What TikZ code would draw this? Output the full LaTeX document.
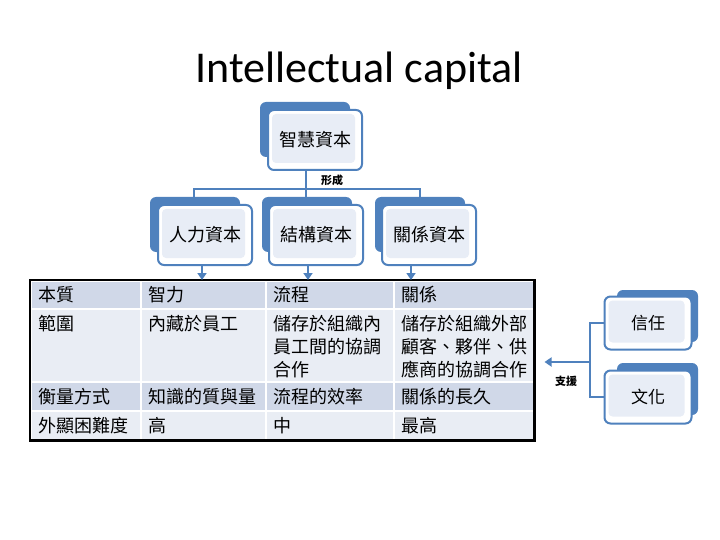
\documentclass[tikz,border=0pt]{standalone}
\usepackage{fontspec}
\setmainfont{Carlito}
\newfontfamily\cjk{Noto Sans CJK TC}
\usetikzlibrary{arrows.meta}
\pgfdeclarelayer{bg}
\pgfsetlayers{bg,main}
\definecolor{capblue}{HTML}{4F81BD}
\definecolor{boxfill}{HTML}{E8EDF6}
\definecolor{rowdark}{HTML}{D0D8E8}
\definecolor{rowlight}{HTML}{E9EDF4}
\begin{document}
\begin{tikzpicture}[
	x=1pt, y=-1pt,
	front/.style={draw=capblue, line width=2pt, rounded corners=6pt, fill=white,
		minimum width=94pt, minimum height=60pt, font=\cjk\fontsize{18}{20}\selectfont,
		path picture={\fill[boxfill, rounded corners=4pt]
			([shift={(4pt,-4pt)}]path picture bounding box.north west) rectangle
			([shift={(-7pt,7pt)}]path picture bounding box.south east);}},
	small/.style={minimum width=87pt, minimum height=53pt, font=\cjk\fontsize{17}{19}\selectfont},
	back/.style={fill=capblue, rounded corners=6pt},
	link/.style={draw=capblue, line width=2pt},
	arrow/.style={link, -{Triangle[width=9pt,length=7pt]}},
	tag/.style={font=\cjk\bfseries\fontsize{11}{12}\selectfont},
	cell/.style={draw=white, line width=1.5pt, anchor=north west, inner xsep=8pt, inner ysep=0pt,
		align=left, font=\cjk\fontsize{18}{23}\selectfont},
	dark/.style={cell, fill=rowdark},
	light/.style={cell, fill=rowlight},
	tall/.style={minimum height=73pt, text height=22pt, text depth=51pt},
	]
	\useasboundingbox (0,0) rectangle (720,540);
	
	%-----------------------
	% Table grid
	%-----------------------
	\def\xa{30}
	\def\xb{140}
	\def\xc{265}
	\def\xd{393}
	\def\ya{280}
	\def\yb{308}
	\def\yc{381}
	\def\yd{410}
	
	%-----------------------
	% Title
	%-----------------------
	\node[anchor=base, font=\fontsize{44}{50}\selectfont] (title) at (359,83) {Intellectual capital};
	
	%-----------------------
	% Capital boxes
	%-----------------------
	\fill[back] (260,102) rectangle (350,157);
	\node[front] (ic) at (315,140) {智慧資本};
	
	\fill[back] (150,197) rectangle (240,252);
	\node[front] (hc) at (205,235) {人力資本};
	\fill[back] (262,197) rectangle (352,252);
	\node[front] (sc) at (316,235) {結構資本};
	\fill[back] (375,197) rectangle (465,252);
	\node[front] (rc) at (429,235) {關係資本};
	
	%-----------------------
	% Support boxes
	%-----------------------
	\fill[back] (617,290) rectangle (698,342);
	\node[front, small] (trust) at (648,323) {信任};
	\fill[back] (617,363) rectangle (698,415);
	\node[front, small] (culture) at (648,397) {文化};
	
	%-----------------------
	% Table
	%-----------------------
	\node[dark, text width=94pt, minimum height=28pt] (c11) at (\xa,\ya) {本質};
	\node[dark, text width=109pt, minimum height=28pt] (c12) at (\xb,\ya) {智力};
	\node[dark, text width=112pt, minimum height=28pt] (c13) at (\xc,\ya) {流程};
	\node[dark, text width=124pt, minimum height=28pt] (c14) at (\xd,\ya) {關係};
	
	\node[light, tall, text width=94pt] (c21) at (\xa,\yb) {範圍};
	\node[light, tall, text width=109pt] (c22) at (\xb,\yb) {內藏於員工};
	\node[light, tall, text width=112pt] (c23) at (\xc,\yb) {儲存於組織內\\員工間的協調\\合作};
	\node[light, tall, text width=124pt] (c24) at (\xd,\yb) {儲存於組織外部\\顧客、夥伴、供\\應商的協調合作};
	
	\node[dark, text width=94pt, minimum height=29pt] (c31) at (\xa,\yc) {衡量方式};
	\node[dark, text width=109pt, minimum height=29pt] (c32) at (\xb,\yc) {知識的質與量};
	\node[dark, text width=112pt, minimum height=29pt] (c33) at (\xc,\yc) {流程的效率};
	\node[dark, text width=124pt, minimum height=29pt] (c34) at (\xd,\yc) {關係的長久};
	
	\node[light, text width=94pt, minimum height=29pt] (c41) at (\xa,\yd) {外顯困難度};
	\node[light, text width=109pt, minimum height=29pt] (c42) at (\xb,\yd) {高};
	\node[light, text width=112pt, minimum height=29pt] (c43) at (\xc,\yd) {中};
	\node[light, text width=124pt, minimum height=29pt] (c44) at (\xd,\yd) {最高};
	
	\draw[line width=2.2pt] (c11.north west) rectangle (c44.south east);
	
	%-----------------------
	% Connections
	%-----------------------
	\coordinate (hub) at (306,189);
	\coordinate (sup) at (590,362);
	
	\begin{pgfonlayer}{bg}
		\draw[link] (ic.south -| hub) -- (hub);
		\draw[link] ([xshift=-11pt]hc.north) |- (hub) -| ([xshift=-9pt]rc.north);
		\draw[link] (hub) -- (hub |- sc.north);
	\end{pgfonlayer}
	\node[tag] (form) at (332,180) {形成};
	
	% boxes -> table
	\draw[arrow] ([xshift=-3pt]hc.south) -- ([xshift=-3pt]hc.south |- c12.north);
	\draw[arrow] ([xshift=-8pt]sc.south) -- ([xshift=-8pt]sc.south |- c13.north);
	\draw[arrow] ([xshift=-18pt]rc.south) -- ([xshift=-18pt]rc.south |- c14.north);
	
	% support -> table
	\draw[link] (trust.west) -| (sup) |- (culture.west);
	\draw[arrow] (sup) -- ([xshift=10pt]c24.east |- sup);
	\node[tag] (support) at (566,381) {支援};
	
\end{tikzpicture}
\end{document}
